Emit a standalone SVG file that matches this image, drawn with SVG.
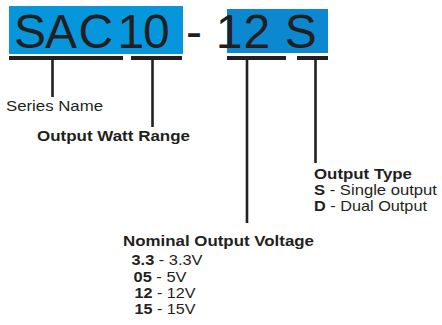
<svg xmlns="http://www.w3.org/2000/svg" width="442" height="325" viewBox="0 0 442 325">
<style>
.big{font-family:"Liberation Sans",Arial,sans-serif;font-size:48px;fill:#231f20}
.t{font-family:"Liberation Sans",Arial,sans-serif;font-size:15px;fill:#231f20}
.b{font-weight:bold}
.bar{fill:#231f20}
.ln{stroke:#231f20;stroke-width:2.6;fill:none}
</style>
<rect width="442" height="325" fill="#ffffff"/>
<g id="code">
<rect x="9" y="6" width="174" height="48" fill="#0696dc"/>
<rect x="227" y="9" width="101" height="44" fill="#0b88d0"/>
<text class="big" x="14 45 78.5 117.5 143" y="48">SAC10</text>
<text class="big" x="186" y="48">-</text>
<text class="big" x="215.8 243.6 270 284.8" y="48">12 S</text>
</g>
<g id="connectors">
<rect class="bar" x="9" y="56" width="114" height="4"/>
<rect class="bar" x="131" y="56" width="51" height="4"/>
<rect class="bar" x="227" y="56" width="59" height="4"/>
<rect class="bar" x="297" y="56" width="31" height="4"/>
<line class="ln" x1="52.5" y1="60" x2="52.5" y2="97"/>
<line class="ln" x1="152.5" y1="60" x2="152.5" y2="127"/>
<line class="ln" x1="247" y1="60" x2="247" y2="223"/>
<line class="ln" x1="315.5" y1="60" x2="315.5" y2="163"/>
</g>
<g id="series">
<text class="t" x="6" y="111" textLength="97" lengthAdjust="spacingAndGlyphs">Series Name</text>
</g>
<g id="watt">
<text class="t b" x="37" y="141" textLength="153" lengthAdjust="spacingAndGlyphs">Output Watt Range</text>
</g>
<g id="type">
<text class="t b" x="314" y="179" textLength="98" lengthAdjust="spacingAndGlyphs">Output Type</text>
<text class="t" x="314" y="195" textLength="123" lengthAdjust="spacingAndGlyphs"><tspan class="b">S</tspan> - Single output</text>
<text class="t" x="314" y="211" textLength="113" lengthAdjust="spacingAndGlyphs"><tspan class="b">D</tspan> - Dual Output</text>
</g>
<g id="voltage">
<text class="t b" x="123" y="246" textLength="191" lengthAdjust="spacingAndGlyphs">Nominal Output Voltage</text>
<text class="t" x="131.5" y="265" textLength="71" lengthAdjust="spacingAndGlyphs"><tspan class="b">3.3</tspan> - 3.3V</text>
<text class="t" x="133.5" y="281.5" textLength="53" lengthAdjust="spacingAndGlyphs"><tspan class="b">05</tspan> - 5V</text>
<text class="t" x="134.5" y="297.5" textLength="61" lengthAdjust="spacingAndGlyphs"><tspan class="b">12</tspan> - 12V</text>
<text class="t" x="134.5" y="313.5" textLength="61" lengthAdjust="spacingAndGlyphs"><tspan class="b">15</tspan> - 15V</text>
</g>
</svg>
